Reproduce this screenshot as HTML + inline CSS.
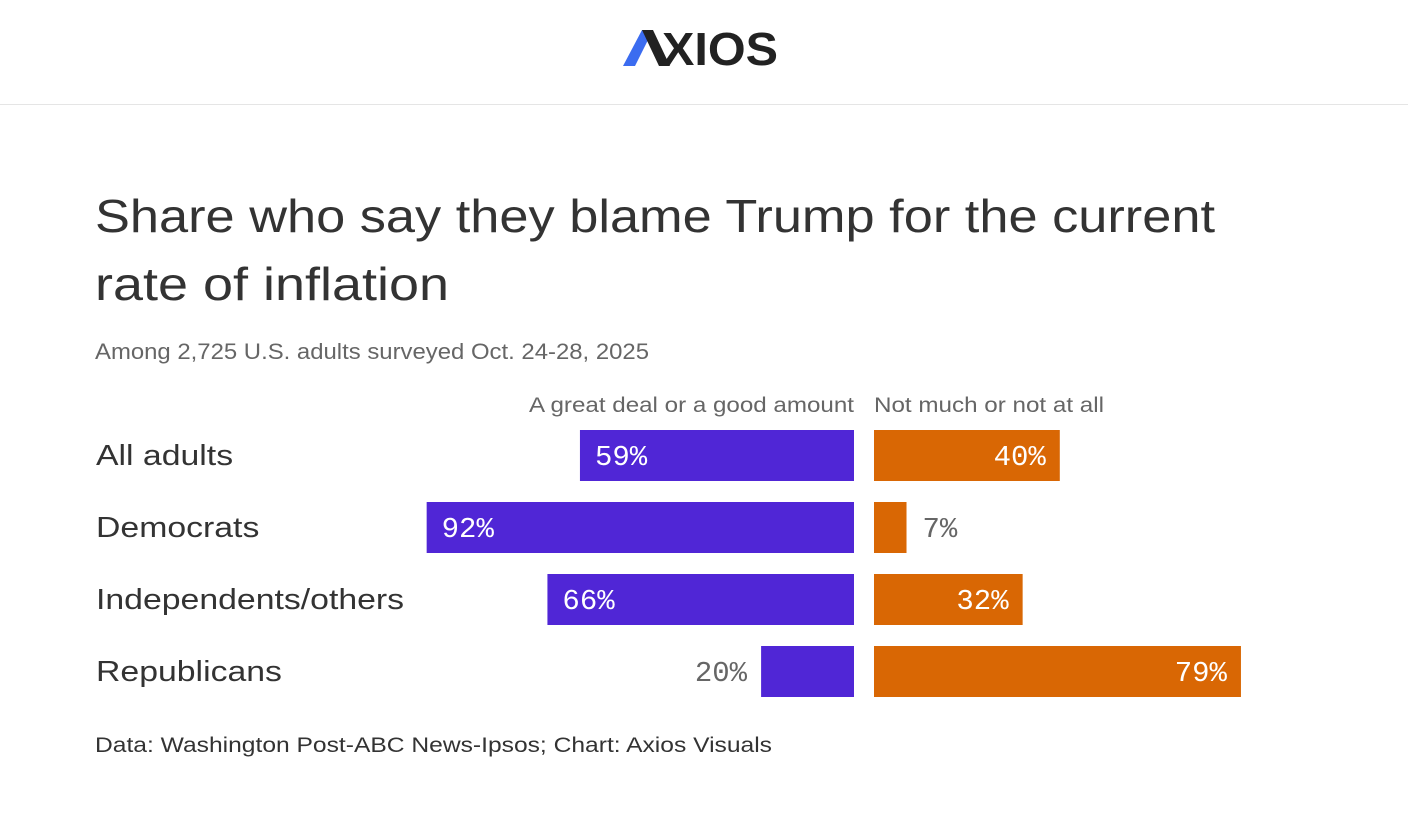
<!DOCTYPE html>
<html><head><meta charset="utf-8"><style>
body{margin:0;background:#fff;width:1408px;height:812px;overflow:hidden;font-family:"Liberation Sans",sans-serif;}
</style></head><body>
<svg width="1408" height="812" xmlns="http://www.w3.org/2000/svg">
<g>
<polygon points="623,66 642,30 653,30 635,66" fill="#3b6cf0"/>
<polygon points="642,30 653,30 670,66 659,66" fill="#222"/>
<text x="662" y="65" font-family="Liberation Sans" font-weight="bold" font-size="46" fill="#222" textLength="116" lengthAdjust="spacingAndGlyphs">XIOS</text>
</g>
<line x1="0" y1="104.5" x2="1408" y2="104.5" stroke="#e5e5e5"/>
<text x="95" y="232" font-size="46" fill="#333" textLength="1120" lengthAdjust="spacingAndGlyphs">Share who say they blame Trump for the current</text>
<text x="95" y="300" font-size="46" fill="#333" textLength="354" lengthAdjust="spacingAndGlyphs">rate of inflation</text>
<text x="95" y="359" font-size="22" fill="#666" textLength="554" lengthAdjust="spacingAndGlyphs">Among 2,725 U.S. adults surveyed Oct. 24-28, 2025</text>
<text x="529" y="412" font-size="21" fill="#666" textLength="325" lengthAdjust="spacingAndGlyphs">A great deal or a good amount</text>
<text x="874" y="412" font-size="21" fill="#666" textLength="230" lengthAdjust="spacingAndGlyphs">Not much or not at all</text>
<g id="bars"></g>
<text x="95" y="752" font-size="21" fill="#333" textLength="677" lengthAdjust="spacingAndGlyphs">Data: Washington Post-ABC News-Ipsos; Chart: Axios Visuals</text>
</svg>
<script>
const categories=["All adults","Democrats","Independents/others","Republicans"];
const blameValues=[59,92,66,20];
const notBlameValues=[40,7,32,79];
const ns="http://www.w3.org/2000/svg";
const g=document.getElementById("bars");
const scale=4.645, zeroL=854, zeroR=874, top0=430, step=72, bh=51;
function xL(v){return zeroL-v*scale;}
function xR(v){return zeroR+v*scale;}
function mk(tag,attrs){const e=document.createElementNS(ns,tag);for(const k in attrs)e.setAttribute(k,attrs[k]);g.appendChild(e);return e;}
categories.forEach((c,i)=>{
 const y=top0+i*step, ty=y+35;
 const lab=mk("text",{x:96,y:ty,"font-size":29,fill:"#333"});
 
 
 lab.textContent=c;
 const w=lab.getComputedTextLength();
 if(w>0){lab.setAttribute("textLength",w*1.165);lab.setAttribute("lengthAdjust","spacingAndGlyphs");}
 const b=blameValues[i], n=notBlameValues[i];
 const r1=mk("rect",{x:xL(b),y:y,width:zeroL-xL(b),height:bh,fill:"#5026d6"});
 
 
 const t1=mk("text",{"font-size":29,"font-family":"Liberation Mono, monospace",y:ty});
 
 
 t1.textContent=b+"%";
 if(b>=30){t1.setAttribute("x",xL(b)+15);t1.setAttribute("fill","#fff");}
 else{t1.setAttribute("x",xL(b)-14);t1.setAttribute("text-anchor","end");t1.setAttribute("fill","#666");}
 const r2=mk("rect",{x:zeroR,y:y,width:xR(n)-zeroR,height:bh,fill:"#d96704"});
 
 
 const t2=mk("text",{"font-size":29,"font-family":"Liberation Mono, monospace",y:ty});
 
 
 t2.textContent=n+"%";
 if(n>=20){t2.setAttribute("x",xR(n)-14);t2.setAttribute("text-anchor","end");t2.setAttribute("fill","#fff");}
 else{t2.setAttribute("x",xR(n)+16);t2.setAttribute("fill","#666");}
});
</script>
</body></html>
